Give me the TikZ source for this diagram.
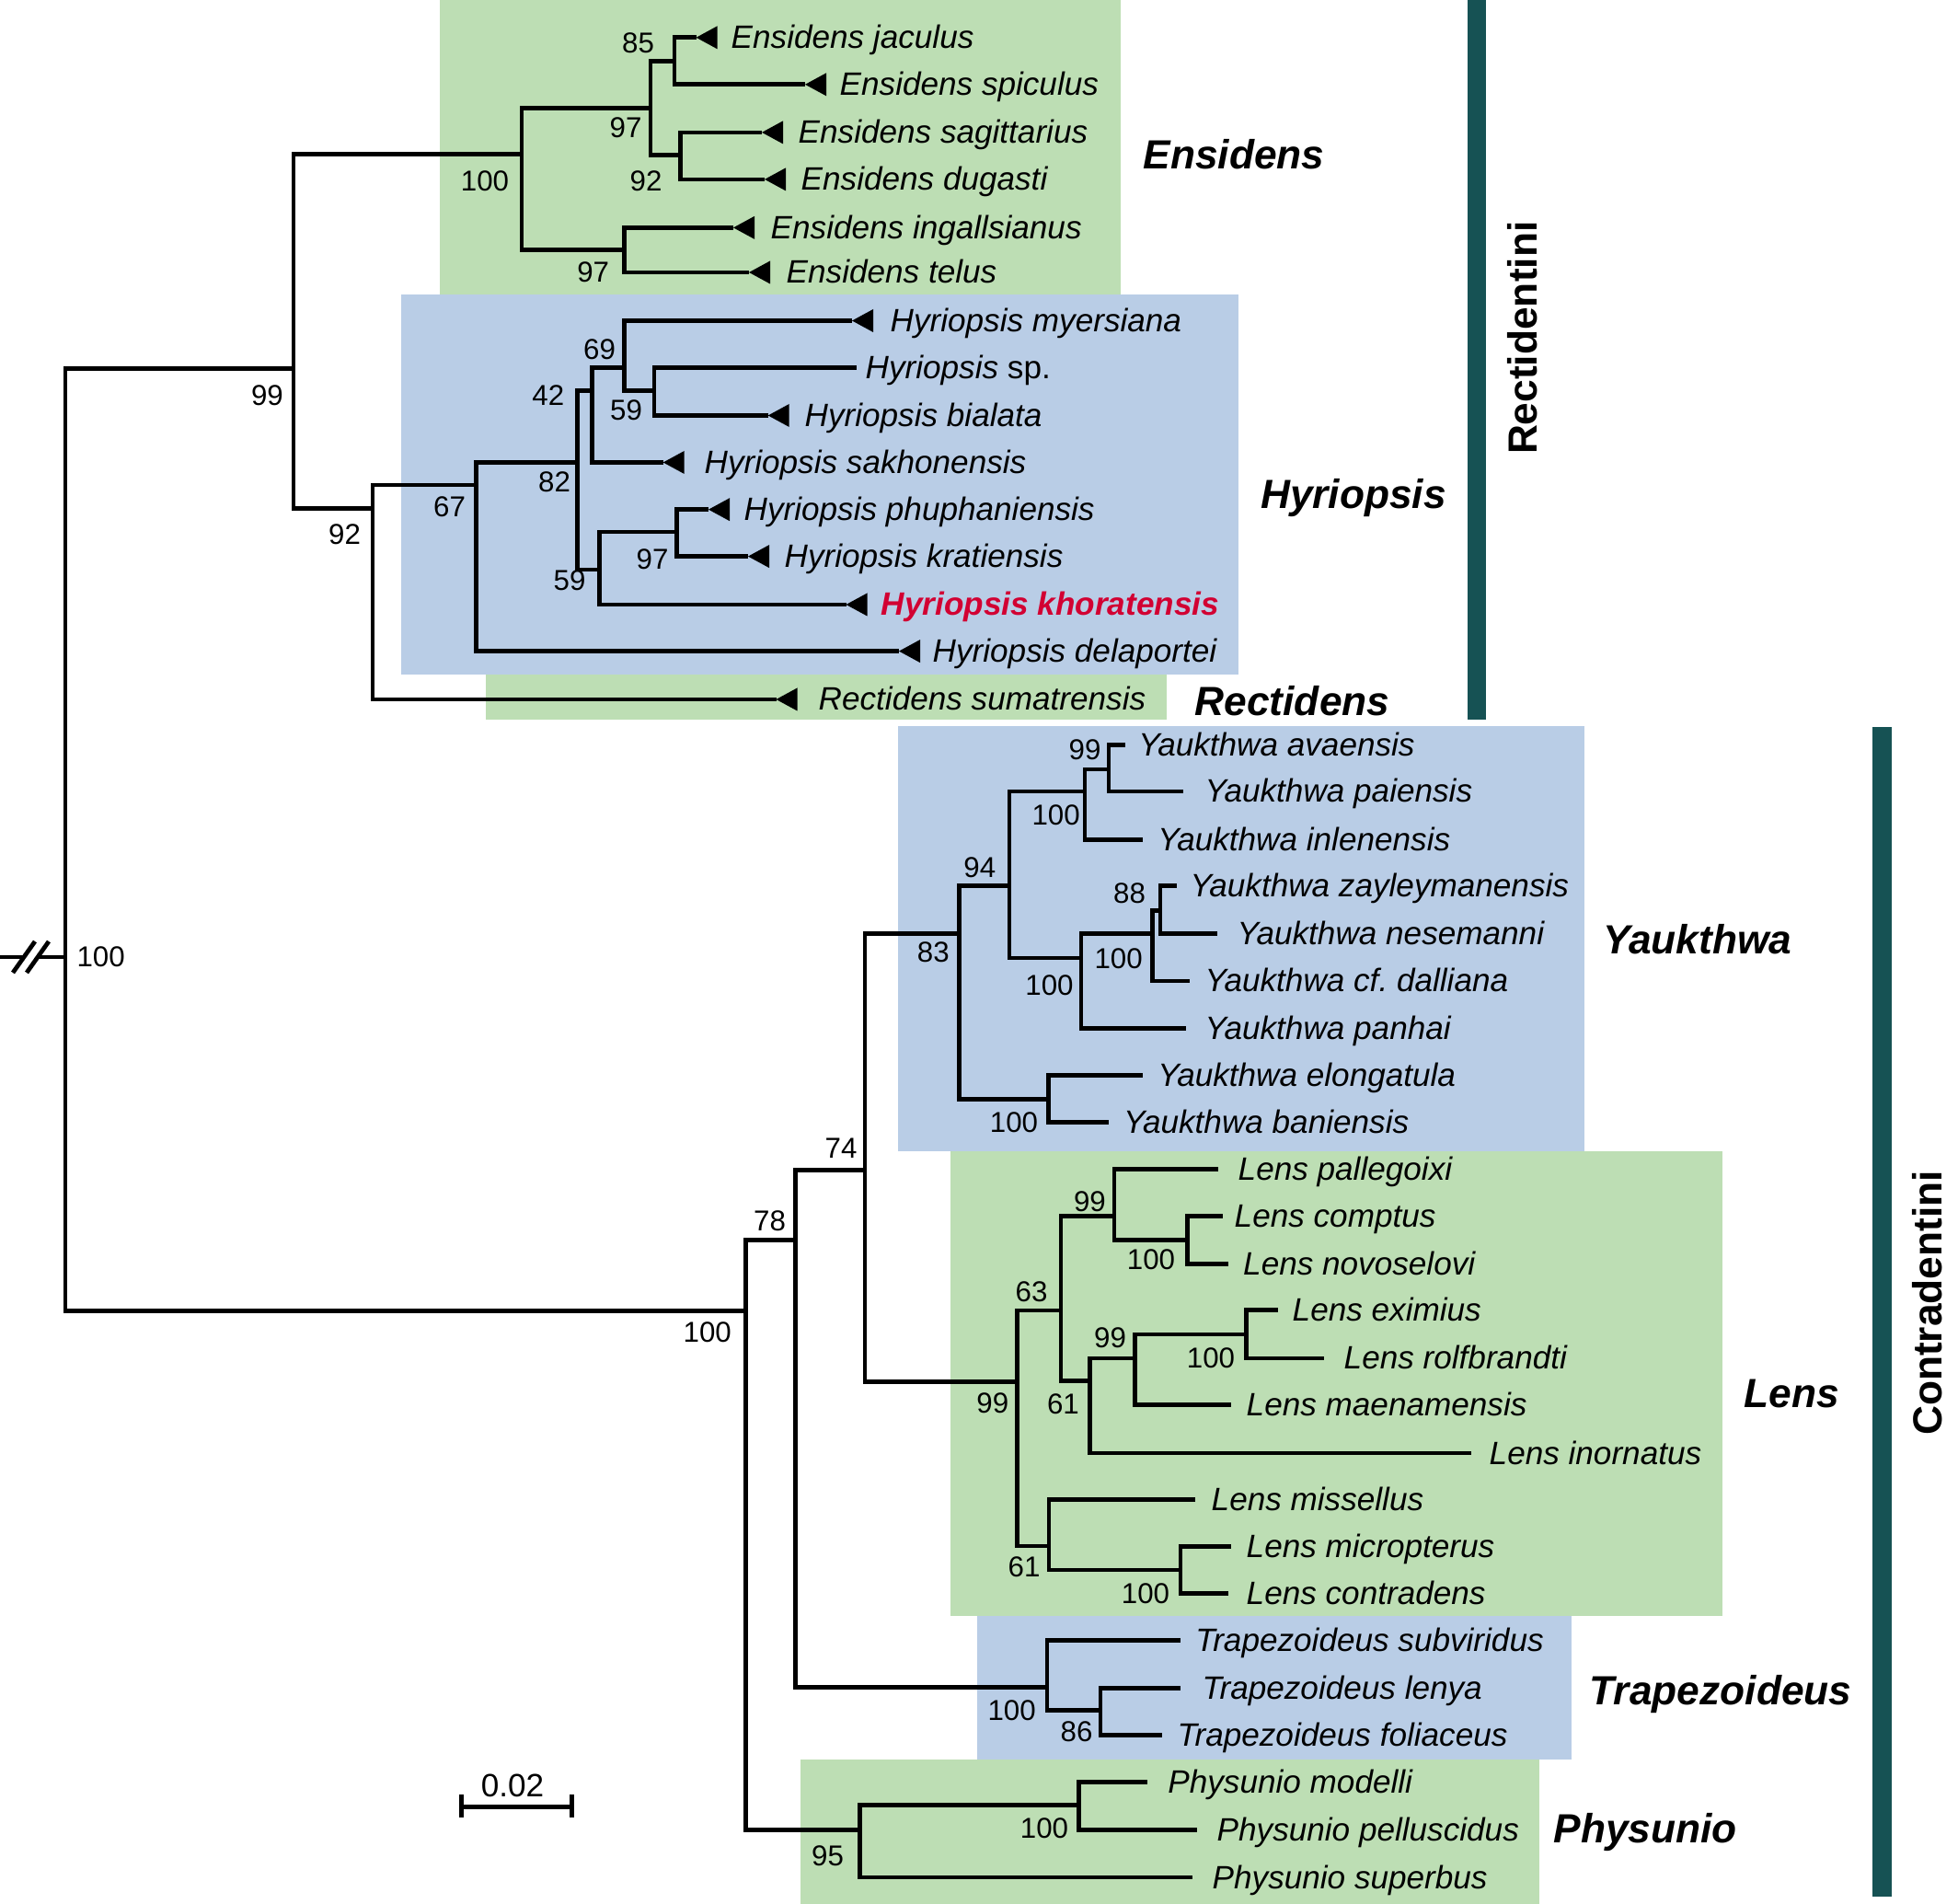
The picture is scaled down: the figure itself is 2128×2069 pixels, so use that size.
\documentclass[tikz,border=0pt]{standalone}
\usepackage{fontspec}
\setmainfont{Liberation Sans}
\usetikzlibrary{calc}
\definecolor{gbox}{RGB}{189,222,180}
\definecolor{bbox}{RGB}{185,205,230}
\definecolor{khored}{RGB}{210,0,50}
\definecolor{teal}{RGB}{22,82,84}
\begin{document}
\begin{tikzpicture}[x=0.1mm,y=-0.1mm,
  br/.style={line width=1.35pt,line join=miter},
  tax/.style={anchor=base west,inner sep=0pt,yshift=-1.2mm,font=\fontsize{10pt}{12pt}\selectfont\itshape},
  genus/.style={anchor=base west,inner sep=0pt,yshift=-1.6mm,font=\fontsize{12.6pt}{15pt}\selectfont\bfseries\itshape},
  bs/.style={anchor=center,inner sep=0pt,font=\fontsize{8.9pt}{10pt}\selectfont},
  tribe/.style={rotate=90,anchor=center,inner sep=0pt,font=\fontsize{12.6pt}{15pt}\selectfont\bfseries}]
\useasboundingbox (0,0) rectangle (2128,2069);
% background boxes
\fill[gbox] (478.4,0) rectangle (1218,320);
\fill[bbox] (435.7,320) rectangle (1345.6,732.6);
\fill[gbox] (528,732.6) rectangle (1267.6,781.6);
\fill[bbox] (975.7,789.3) rectangle (1722,1251);
\fill[gbox] (1033,1251) rectangle (1871.7,1755.5);
\fill[bbox] (1062,1755.5) rectangle (1708,1912.3);
\fill[gbox] (869.5,1912.3) rectangle (1672.5,2069);
% tribe bars
\fill[teal] (1594.6,0) rectangle (1615,781.6);
\fill[teal] (2035,790) rectangle (2056,2061);
% internal nodes
\coordinate (R) at (71,1040);
\coordinate (N99) at (319,400.5);
\coordinate (E100) at (567,167.3);
\coordinate (E97a) at (707,117.3);
\coordinate (E85) at (733,66.3);
\coordinate (E92) at (739.6,168.4);
\coordinate (E97b) at (678.6,271.4);
\coordinate (H92) at (405,552.5);
\coordinate (H67) at (517.8,527);
\coordinate (H82) at (627.7,502.5);
\coordinate (H42) at (643.3,424.5);
\coordinate (H69) at (678.6,399.5);
\coordinate (H59a) at (711,424.5);
\coordinate (H59b) at (651.5,618.9);
\coordinate (H97) at (735.6,578);
\coordinate (C100) at (810.5,1424.5);
\coordinate (C78) at (864.5,1347.3);
\coordinate (C95) at (934.8,1988.3);
\coordinate (C74) at (940,1271.6);
\coordinate (T100) at (1138,1833.3);
\coordinate (Y83) at (1042.3,1014.7);
\coordinate (L99) at (1105.6,1501.5);
\coordinate (Y94) at (1097,962.3);
\coordinate (Y100d) at (1139.8,1194.3);
\coordinate (Y100a) at (1179,860);
\coordinate (Y100b) at (1175,1041);
\coordinate (Y99) at (1205,836);
\coordinate (Y100c) at (1252.8,1014.3);
\coordinate (Y88) at (1261,989.3);
\coordinate (L63) at (1153,1424);
\coordinate (L61b) at (1140,1680);
\coordinate (L99b) at (1211,1321.7);
\coordinate (L61a) at (1184.4,1500.7);
\coordinate (L100e) at (1290.8,1347.7);
\coordinate (L99c) at (1233.4,1476);
\coordinate (L100f) at (1354.3,1450);
\coordinate (L100g) at (1283,1706);
\coordinate (T86) at (1196,1858.3);
\coordinate (P100) at (1172.4,1961.7);
% leaves
\coordinate (Ljac) at (756.6,40.8);
\coordinate (Lspi) at (875,91.8);
\coordinate (Lsag) at (828,143.9);
\coordinate (Ldug) at (831,194.9);
\coordinate (Ling) at (797,247.4);
\coordinate (Ltel) at (814,296);
\coordinate (Lmye) at (926,348.5);
\coordinate (Lsp) at (931,399.5);
\coordinate (Lbia) at (834.7,451.5);
\coordinate (Lsak) at (720.7,502.5);
\coordinate (Lphu) at (770,553.7);
\coordinate (Lkra) at (813,604.6);
\coordinate (Lkho) at (919.5,657);
\coordinate (Ldel) at (977,707.6);
\coordinate (Lsum) at (843.5,760);
\coordinate (Lava) at (1222.6,809.3);
\coordinate (Lpai) at (1285.8,860);
\coordinate (Linl) at (1241.6,912.7);
\coordinate (Lzay) at (1278.7,962.7);
\coordinate (Lnes) at (1323,1014.3);
\coordinate (Ldal) at (1292.8,1066);
\coordinate (Lpan) at (1289,1117.7);
\coordinate (Lelo) at (1241.6,1168.3);
\coordinate (Lban) at (1205,1219.3);
\coordinate (Lpal) at (1323.7,1270.7);
\coordinate (Lcom) at (1329,1321.7);
\coordinate (Lnov) at (1335,1373.3);
\coordinate (Lexi) at (1388.8,1423.3);
\coordinate (Lrol) at (1438.5,1476);
\coordinate (Lmae) at (1337.5,1526.7);
\coordinate (Lino) at (1599,1579);
\coordinate (Lmis) at (1299,1629.3);
\coordinate (Lmic) at (1337.5,1680.7);
\coordinate (Lcon) at (1335,1731.7);
\coordinate (Lsub) at (1282.6,1782.3);
\coordinate (Llen) at (1282.6,1834.3);
\coordinate (Lfol) at (1263.4,1885.7);
\coordinate (Lmod) at (1247.3,1936.7);
\coordinate (Lpel) at (1300.8,1988.3);
\coordinate (Lsup) at (1295.5,2040);
% branches
\foreach \a/\b in {R/N99,R/C100,N99/E100,N99/H92,E100/E97a,E100/E97b,E97a/E85,E97a/E92,
  E85/Ljac,E85/Lspi,E92/Lsag,E92/Ldug,E97b/Ling,E97b/Ltel,H92/H67,H92/Lsum,H67/H82,H67/Ldel,
  H82/H42,H82/H59b,H42/H69,H42/Lsak,H69/Lmye,H69/H59a,H59a/Lsp,H59a/Lbia,H59b/H97,H59b/Lkho,
  H97/Lphu,H97/Lkra,
  C100/C78,C100/C95,C78/C74,C78/T100,C74/Y83,C74/L99,Y83/Y94,Y83/Y100d,Y94/Y100a,Y94/Y100b,
  Y100a/Y99,Y100a/Linl,Y99/Lava,Y99/Lpai,Y100b/Y100c,Y100b/Lpan,Y100c/Y88,Y100c/Ldal,
  Y88/Lzay,Y88/Lnes,Y100d/Lelo,Y100d/Lban,L99/L63,L99/L61b,L63/L99b,L63/L61a,L99b/Lpal,
  L99b/L100e,L100e/Lcom,L100e/Lnov,L61a/L99c,L61a/Lino,L99c/L100f,L99c/Lmae,L100f/Lexi,
  L100f/Lrol,L61b/Lmis,L61b/L100g,L100g/Lmic,L100g/Lcon,T100/Lsub,T100/T86,T86/Llen,
  T86/Lfol,C95/P100,C95/Lsup,P100/Lmod,P100/Lpel}
  \draw[br] (\a) |- (\b);
% collapsed-clade triangles
\foreach \n in {Ljac,Lspi,Lsag,Ldug,Ling,Ltel,Lmye,Lbia,Lsak,Lphu,Lkra,Lkho,Ldel,Lsum}
  \fill (\n) -- ++(23,-12.5) -- ++(0,25) -- cycle;
% root break
\coordinate (brk) at (0,1040);
\coordinate (brka) at (26,1040);
\coordinate (brkb) at (41,1040);
\draw[br] (brk) -- (brka);
\draw[br] (brkb) -- (R);
\draw[br] ($(brka)+(-12,17)$) -- ($(brka)+(12,-17)$);
\draw[br] ($(brkb)+(-12,17)$) -- ($(brkb)+(12,-17)$);
% taxa
\node[tax] (tjac) at (794,40.8) {Ensidens jaculus};
\node[tax] (tspi) at (912,91.8) {Ensidens spiculus};
\node[tax] (tsag) at (867,143.9) {Ensidens sagittarius};
\node[tax] (tdug) at (870,194.9) {Ensidens dugasti};
\node[tax] (ting) at (837,247.4) {Ensidens ingallsianus};
\node[tax] (ttel) at (854,296) {Ensidens telus};
\node[tax] (tmye) at (967,348.5) {Hyriopsis myersiana};
\node[tax] (tsp) at (940,399.5) {Hyriopsis \upshape sp.};
\node[tax] (tbia) at (874,451.5) {Hyriopsis bialata};
\node[tax] (tsak) at (765,502.5) {Hyriopsis sakhonensis};
\node[tax] (tphu) at (808,553.7) {Hyriopsis phuphaniensis};
\node[tax] (tkra) at (852,604.6) {Hyriopsis kratiensis};
\node[tax,text=khored,font=\fontsize{10pt}{12pt}\selectfont\bfseries\itshape] (tkho) at (957,657) {Hyriopsis khoratensis};
\node[tax] (tdel) at (1013,707.6) {Hyriopsis delaportei};
\node[tax] (tsum) at (889,760) {Rectidens sumatrensis};
\node[tax] (tava) at (1236.7,809.3) {Yaukthwa avaensis};
\node[tax] (tpai) at (1309,860) {Yaukthwa paiensis};
\node[tax] (tinl) at (1257.7,912.7) {Yaukthwa inlenensis};
\node[tax] (tzay) at (1292.8,962.7) {Yaukthwa zayleymanensis};
\node[tax] (tnes) at (1344,1014.3) {Yaukthwa nesemanni};
\node[tax] (tdal) at (1309,1066) {Yaukthwa cf.\ dalliana};
\node[tax] (tpan) at (1309,1117.7) {Yaukthwa panhai};
\node[tax] (telo) at (1257.7,1168.3) {Yaukthwa elongatula};
\node[tax] (tban) at (1220.5,1219.3) {Yaukthwa baniensis};
\node[tax] (tpal) at (1345,1270.7) {Lens pallegoixi};
\node[tax] (tcom) at (1341,1321.7) {Lens comptus};
\node[tax] (tnov) at (1350.5,1373.3) {Lens novoselovi};
\node[tax] (texi) at (1404,1423.3) {Lens eximius};
\node[tax] (trol) at (1460,1476) {Lens rolfbrandti};
\node[tax] (tmae) at (1354,1526.7) {Lens maenamensis};
\node[tax] (tino) at (1618,1579) {Lens inornatus};
\node[tax] (tmis) at (1316,1629.3) {Lens missellus};
\node[tax] (tmic) at (1354,1680.7) {Lens micropterus};
\node[tax] (tcon) at (1354,1731.7) {Lens contradens};
\node[tax] (tsub) at (1298.7,1782.3) {Trapezoideus subviridus};
\node[tax] (tlen) at (1306,1834.3) {Trapezoideus lenya};
\node[tax] (tfol) at (1279,1885.7) {Trapezoideus foliaceus};
\node[tax] (tmod) at (1268.7,1936.7) {Physunio modelli};
\node[tax] (tpel) at (1322,1988.3) {Physunio pelluscidus};
\node[tax] (tsup) at (1317,2040) {Physunio superbus};
% genus labels
\node[genus] (gEns) at (1241.8,168) {Ensidens};
\node[genus] (gHyr) at (1369.4,537) {Hyriopsis};
\node[genus] (gRec) at (1298,761.7) {Rectidens};
\node[genus] (gYau) at (1741.7,1021) {Yaukthwa};
\node[genus] (gLen) at (1895,1514) {Lens};
\node[genus] (gTra) at (1727,1836) {Trapezoideus};
\node[genus] (gPhy) at (1688,1986.7) {Physunio};
% tribes
\node[tribe] (tRect) at (1654.4,367.3) {Rectidentini};
\node[tribe] (tCont) at (2095,1416) {Contradentini};
% bootstrap values
\node[bs] (b1) at (693.5,47) {85};
\node[bs] (b2) at (680,139) {97};
\node[bs] (b3) at (527,196.4) {100};
\node[bs] (b4) at (702,196.4) {92};
\node[bs] (b5) at (644.7,296) {97};
\node[bs] (b6) at (290.4,429.6) {99};
\node[bs] (b7) at (374.6,580.6) {92};
\node[bs] (b8) at (651.5,380) {69};
\node[bs] (b9) at (595.8,429.6) {42};
\node[bs] (b10) at (680.6,445.4) {59};
\node[bs] (b11) at (602.6,524) {82};
\node[bs] (b12) at (488.6,551) {67};
\node[bs] (b13) at (709,608) {97};
\node[bs] (b14) at (619,631) {59};
\node[bs] (b15) at (109.7,1040) {100};
\node[bs] (b16) at (1179,815) {99};
\node[bs] (b17) at (1147.6,886) {100};
\node[bs] (b18) at (1064.8,942.7) {94};
\node[bs] (b19) at (1227.5,971) {88};
\node[bs] (b20) at (1014.3,1035) {83};
\node[bs] (b21) at (1215.6,1041.7) {100};
\node[bs] (b22) at (1140.5,1070.7) {100};
\node[bs] (b23) at (1102,1219.3) {100};
\node[bs] (b24) at (914,1248) {74};
\node[bs] (b25) at (836.5,1327) {78};
\node[bs] (b26) at (768.8,1448) {100};
\node[bs] (b27) at (1184.4,1306) {99};
\node[bs] (b28) at (1251,1368.3) {100};
\node[bs] (b29) at (1121,1404) {63};
\node[bs] (b30) at (1206.6,1454) {99};
\node[bs] (b31) at (1316,1476) {100};
\node[bs] (b32) at (1078.8,1525) {99};
\node[bs] (b33) at (1155.4,1526) {61};
\node[bs] (b34) at (1113,1702.7) {61};
\node[bs] (b35) at (1245,1731.7) {100};
\node[bs] (b36) at (1099.6,1858.3) {100};
\node[bs] (b37) at (1170,1881.7) {86};
\node[bs] (b38) at (1135,1986.7) {100};
\node[bs] (b39) at (899.5,2016.7) {95};
% scale bar
\coordinate (sa) at (501.4,1963.3);
\coordinate (sb) at (621.2,1963.3);
\draw[br] (sa) -- (sb);
\draw[br] ($(sa)+(0,-13)$) -- ($(sa)+(0,12)$);
\draw[br] ($(sb)+(0,-13)$) -- ($(sb)+(0,12)$);
\node[anchor=center,inner sep=0pt,font=\fontsize{10pt}{12pt}\selectfont] (scl) at (557,1940) {0.02};
\end{tikzpicture}
\end{document}
